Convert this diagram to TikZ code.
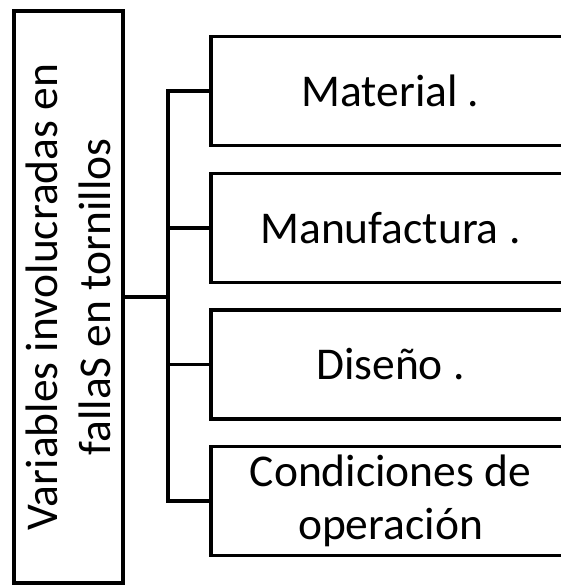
\documentclass[tikz,border=0pt]{standalone}
\usepackage{fontspec}
\setmainfont{Carlito}
\usetikzlibrary{shapes}

\begin{document}
\begin{tikzpicture}[x=1pt,y=-1pt,line width=3.6pt,
	box/.style={rectangle, draw, align=center, font=\fontsize{45.5}{53}\selectfont, inner sep=0pt}]
	\useasboundingbox (0,0) rectangle (561,586);
        	\node [box, rotate=90, minimum width=572pt, minimum height=109pt] (var) at (68.5,297) {Variables involucradas en\\fallaS en tornillos};
        	\node [box, minimum width=359pt, minimum height=109pt] (mat) at (390.5,91) {Material .};
        	\node [box, minimum width=359pt, minimum height=109pt] (man) at (390.5,228) {Manufactura .};
        	\node [box, minimum width=359pt, minimum height=109pt] (dis) at (390.5,364.5) {Dise\~no .};
        	\node [box, minimum width=359pt, minimum height=109pt] (con) at (390.5,501) {Condiciones de\\operaci\'on};
        	\coordinate (j) at (168,297);
	\draw (var.south) -- (j);
	\draw (mat.west) -| (j) |- (con.west);
	\foreach \to in {
		man, dis}
	\draw (j |- \to.west) to (\to.west);
	\end{tikzpicture}
\end{document}
